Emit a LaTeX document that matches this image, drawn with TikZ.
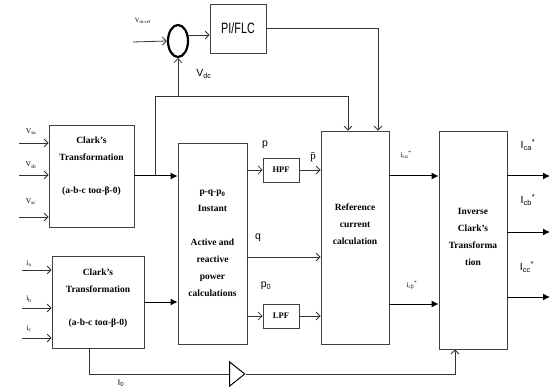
\documentclass[tikz,border=0pt]{standalone}
\usepackage{fontspec}
\setmainfont{Liberation Serif}
\setsansfont{Liberation Sans}
\usetikzlibrary{shapes.geometric, arrows.meta, positioning}

\begin{document}
\begin{tikzpicture}[
    x=1pt, y=-1pt,
    block/.style={rectangle, draw=black!75, line width=0.8pt, align=center, inner sep=0pt, fill=white, font=\fontsize{9.5}{17}\selectfont\bfseries},
    filt/.style={rectangle, draw=black!75, line width=0.7pt, align=center, inner sep=0pt, minimum width=36pt, minimum height=24pt, font=\fontsize{8.5}{9}\selectfont\bfseries},
    lbl/.style={inner sep=0pt, font=\fontsize{7.5}{8}\selectfont},
    slbl/.style={inner sep=0pt, font=\sffamily\fontsize{10.5}{11}\selectfont},
    line/.style={draw=black!80, line width=0.8pt},
    arrow/.style={line, -{Straight Barb[length=4pt,width=8pt]}},
    farrow/.style={line width=1pt, draw=black, -{Latex[length=7pt,width=7pt]}}
]
\useasboundingbox[fill=white] (0,0) rectangle (553,387);

% 1. Clark blocks
\node[block, minimum width=85pt, minimum height=102pt] (clarkv) at (91.5,176) {Clark's\\Transformation\\[16pt](a-b-c toα-β-0)\\[5pt]\mbox{}};
\node[block, minimum width=92pt, minimum height=92pt] (clarki) at (98,302) {Clark's\\Transformation\\[16pt](a-b-c toα-β-0)\\[-7pt]\mbox{}};

% 2. Power calculation and filters
\node[block, minimum width=69pt, minimum height=201pt] (pq) at (212.5,243.5) {p-q-p\textsubscript{0}\\Instant\\[17pt]Active and\\reactive\\power\\calculations};
\node[filt] (hpf) at (281,170) {HPF};
\node[filt] (lpf) at (281,316) {LPF};

% 3. Reference and inverse blocks
\node[block, minimum width=68pt, minimum height=213pt] (ref) at (355,237.5) {Reference\\current\\calculation\\[9pt]\mbox{}};
\node[block, minimum width=68pt, minimum height=218pt] (inv) at (473,240) {Inverse\\Clark's\\Transforma\\tion\\[-11pt]\mbox{}};

% 4. DC voltage loop
\node[ellipse, draw=black, line width=2.2pt, minimum width=20pt, minimum height=32pt, inner sep=0pt] (sum) at (178,41) {};
\node[rectangle, draw=black!75, line width=0.8pt, minimum width=56pt, minimum height=49pt, font=\sffamily\fontsize{15}{16}\selectfont] (pi) at (238,28.5) {\scalebox{0.72}[1]{PI/FLC}};
\node[isosceles triangle, isosceles triangle stretches, draw=black, line width=1pt, minimum width=24pt, minimum height=15pt, inner sep=0pt] (amp) at (235.5,374) {};

% 5. Free ends
\coordinate (vsa) at (19,143);
\coordinate (vsb) at (19,175);
\coordinate (vsc) at (19,217);
\coordinate (ia) at (22,270);
\coordinate (ib) at (22,308);
\coordinate (ic) at (22,338);
\coordinate (vref) at (133,42);
\coordinate (br) at (155,176);
\coordinate (fb) at (155,96);
\coordinate (qout) at (pq.east |- 0,257);
\coordinate (icbeta) at (ref.east |- 0,304);
\coordinate (ica) at (550,176);
\coordinate (icb) at (550,232);
\coordinate (icc) at (550,297);
\coordinate (izero) at ([xshift=-9pt]clarki.south);

% 6. Labels
\node[lbl] (lvsa) at (31,132) {V\textsubscript{sa}};
\node[lbl] (lvsb) at (31,165) {V\textsubscript{sb}};
\node[lbl] (lvsc) at (31,202) {V\textsubscript{sc}};
\node[lbl] (lia) at (29,264) {i\textsubscript{a}};
\node[lbl] (lib) at (29,299) {i\textsubscript{b}};
\node[lbl] (lic) at (29,329) {i\textsubscript{c}};
\node[lbl, font=\fontsize{6.5}{7}\selectfont] (lvref) at (143,21) {V\textsubscript{dc-ref}};
\node[slbl] (lvdc) at (204,74) {V\textsubscript{dc}};
\node[slbl] (lp) at (265,145) {p};
\node[lbl, font=\fontsize{11}{12}\selectfont] (lpt) at (313,157) {\=p};
\node[slbl] (lq) at (258,238) {q};
\node[slbl] (lpo) at (266,286) {p\textsubscript{0}};
\node[lbl] (lica) at (406,155) {i\textsubscript{cα}\textsuperscript{*}};
\node[lbl] (licb) at (412,285) {i\textsubscript{cβ}\textsuperscript{*}};
\node[slbl] (lIca) at (528,145) {I\textsubscript{ca}\textsuperscript{*}};
\node[slbl] (lIcb) at (528,200) {I\textsubscript{cb}\textsuperscript{*}};
\node[slbl] (lIcc) at (527,267) {I\textsubscript{cc}\textsuperscript{*}};
\node[slbl, font=\sffamily\fontsize{8.5}{9}\selectfont] (lizero) at (121,383) {I\textsubscript{0}};

% 7. Connections (Arrows)
\draw[arrow] (vsa) -- (vsa -| clarkv.west);
\draw[arrow] (vsb) -- (vsb -| clarkv.west);
\draw[arrow] (vsc) -- (vsc -| clarkv.west);
\draw[arrow] (ia) -- (ia -| clarki.west);
\draw[arrow] (ib) -- (ib -| clarki.west);
\draw[arrow] (ic) -- (ic -| clarki.west);

% DC loop
\draw[arrow] (vref) -- (sum.west);
\draw[arrow] (sum.30) -- (sum.30 -| pi.west);
\draw[arrow] (pi.east) -| ([xshift=23pt]ref.north);
\draw[arrow] (br) -- (fb) -| ([xshift=-7pt]ref.north);
\draw[arrow] (sum.south |- fb) -- (sum.south);

% Clark outputs
\draw[farrow] (clarkv.east) -- (clarkv.east -| pq.west);
\draw[farrow] (clarki.east) -- (clarki.east -| pq.west);

% p, q, p0
\draw[arrow] (pq.east |- hpf.west) -- (hpf.west);
\draw[arrow] (hpf.east) -- (hpf.east -| ref.west);
\draw[arrow] (qout) -- (qout -| ref.west);
\draw[arrow] (pq.east |- lpf.west) -- (lpf.west);
\draw[arrow] (lpf.east) -- (lpf.east -| ref.west);

% Reference currents
\draw[farrow] (ref.east |- ica) -- (inv.west |- ica);
\draw[farrow] (icbeta) -- (icbeta -| inv.west);
\draw[farrow] (inv.east |- ica) -- (ica);
\draw[farrow] (inv.east |- icb) -- (icb);
\draw[farrow] (inv.east |- icc) -- (icc);

% Zero sequence path
\draw[line] (izero) |- (amp.west);
\draw[arrow] (amp.east) -| ([xshift=-18pt]inv.south);

\end{tikzpicture}
\end{document}
